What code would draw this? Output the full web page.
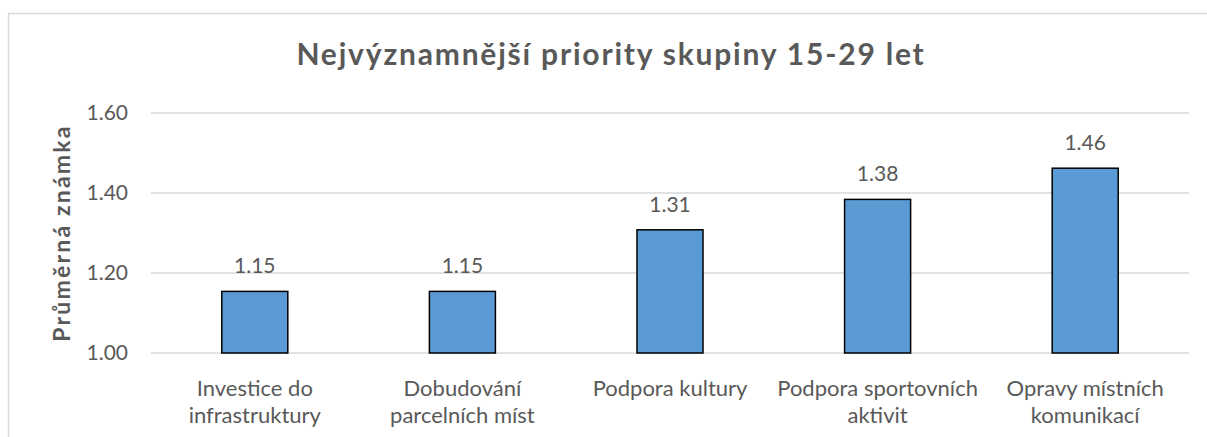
<!DOCTYPE html>
<html lang="cs">
  <head>
    <meta charset="UTF-8" />
    <title>Nejvýznamnější priority skupiny 15-29 let</title>
    <script src="https://d3js.org/d3.v7.min.js"></script>
    <style>
      body {
        margin: 0;
        background: white;
      }
      text {
        font-family: Lato, "Open Sans", sans-serif;
        fill: #595959;
      }
    </style>
  </head>
  <body>
    <div id="chart"></div>
    <script>
      // data
      const categories = [
        "Investice do infrastruktury",
        "Dobudování parcelních míst",
        "Podpora kultury",
        "Podpora sportovních aktivit",
        "Opravy místních komunikací"
      ];
      const categoryLines = [
        ["Investice do", "infrastruktury"],
        ["Dobudování", "parcelních míst"],
        ["Podpora kultury"],
        ["Podpora sportovních", "aktivit"],
        ["Opravy místních", "komunikací"]
      ];
      const values = [1.154, 1.154, 1.308, 1.384, 1.462];
      const yTicks = [1.0, 1.2, 1.4, 1.6];

      const width = 1207;
      const height = 437;
      const margin = { top: 113, right: 18, bottom: 84, left: 151 };

      const svg = d3
        .select("#chart")
        .append("svg")
        .attr("width", width)
        .attr("height", height);

      // outer chart frame (runs off the right and bottom edge)
      svg
        .append("rect")
        .attr("x", 8.5)
        .attr("y", 13.5)
        .attr("width", width + 20)
        .attr("height", height + 20)
        .attr("fill", "white")
        .attr("stroke", "#d9d9d9")
        .attr("stroke-width", 1.5);

      const x = d3
        .scaleBand()
        .domain(categories)
        .range([margin.left, width - margin.right])
        .paddingInner(0.682)
        .paddingOuter(0.341);

      const y = d3
        .scaleLinear()
        .domain([1.0, 1.6])
        .range([height - margin.bottom, margin.top]);

      // gridlines
      svg
        .append("g")
        .selectAll("line")
        .data(yTicks)
        .join("line")
        .attr("x1", margin.left)
        .attr("x2", width - margin.right)
        .attr("y1", (d) => y(d))
        .attr("y2", (d) => y(d))
        .attr("stroke", "#d9d9d9")
        .attr("stroke-width", 1.5);

      // y tick labels
      svg
        .append("g")
        .selectAll("text")
        .data(yTicks)
        .join("text")
        .attr("x", margin.left - 23)
        .attr("y", (d) => y(d) + 7)
        .attr("text-anchor", "end")
        .style("font-size", "21px")
        .text((d) => d3.format(".2f")(d));

      // bars
      svg
        .append("g")
        .selectAll("rect")
        .data(values)
        .join("rect")
        .attr("x", (d, i) => x(categories[i]))
        .attr("y", (d) => y(d))
        .attr("width", x.bandwidth())
        .attr("height", (d) => y(1.0) - y(d))
        .attr("fill", "#5b9bd5")
        .attr("stroke", "#000")
        .attr("stroke-width", 1.5);

      // value labels
      svg
        .append("g")
        .selectAll("text")
        .data(values)
        .join("text")
        .attr("x", (d, i) => x(categories[i]) + x.bandwidth() / 2)
        .attr("y", (d) => y(d) - 18)
        .attr("text-anchor", "middle")
        .style("font-size", "21px")
        .text((d) => d3.format(".2f")(d));

      // category labels
      const cat = svg
        .append("g")
        .selectAll("text")
        .data(categoryLines)
        .join("text")
        .attr("text-anchor", "middle")
        .style("font-size", "22px")
        .attr("transform", (d, i) =>
          "translate(" + (x(categories[i]) + x.bandwidth() / 2) + ",396)"
        );
      cat
        .selectAll("tspan")
        .data((d) => d)
        .join("tspan")
        .attr("x", 0)
        .attr("y", (d, i) => i * 27)
        .text((d) => d);

      // y axis title
      svg
        .append("text")
        .attr("transform", "translate(70," + (margin.top + (height - margin.bottom - margin.top) / 2) + ") rotate(-90)")
        .attr("text-anchor", "middle")
        .style("font-size", "23px")
        .style("font-weight", "bold")
        .style("letter-spacing", "2.2px")
        .text("Průměrná známka");

      // title
      svg
        .append("text")
        .attr("x", 611)
        .attr("y", 65)
        .attr("text-anchor", "middle")
        .style("font-size", "30px")
        .style("font-weight", "bold")
        .style("letter-spacing", "1.8px")
        .text("Nejvýznamnější priority skupiny 15-29 let");
    </script>
  </body>
</html>
